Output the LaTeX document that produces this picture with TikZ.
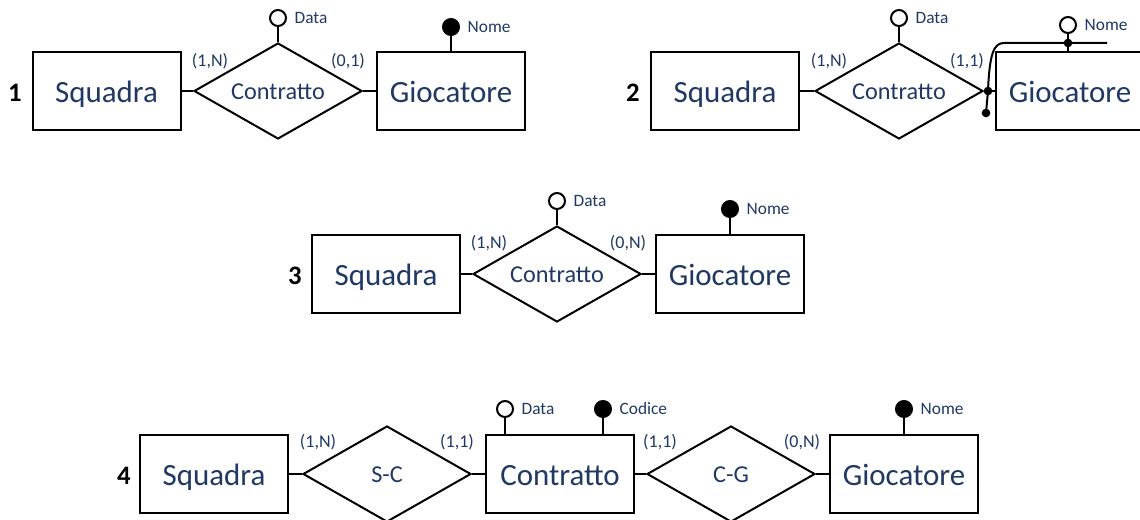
\documentclass[tikz,border=0pt]{standalone}
\usepackage{fontspec}
\setmainfont{Carlito}
\usetikzlibrary{shapes.geometric,positioning}
\definecolor{ernavy}{RGB}{31,56,100}

\tikzset{
  entity/.style={draw, rectangle, minimum width=111pt, minimum height=58.5pt, inner sep=0pt, text height=20pt, text depth=2.5pt, text=ernavy, font=\fontsize{23.2}{25}\selectfont},
  relation/.style={draw, diamond, aspect=1.75, minimum width=126pt, minimum height=72pt, inner sep=0pt, text height=16pt, text depth=2.5pt, text=ernavy, font=\fontsize{18.2}{20}\selectfont},
  attr/.style={circle, draw, fill=white, minimum size=12pt, inner sep=0pt},
  keyattr/.style={attr, fill=black},
  dot/.style={circle, fill=black, minimum size=6.5pt, inner sep=0pt},
  alab/.style={inner sep=0pt, text=ernavy, font=\fontsize{13}{14}\selectfont},
  card/.style={inner sep=0pt, text=ernavy, font=\fontsize{13.5}{15}\selectfont},
  num/.style={inner sep=0pt, font=\bfseries\fontsize{20}{22}\selectfont}
}

\begin{document}
\begin{tikzpicture}[line cap=butt,line join=miter,line width=1.5pt,x=0.75pt,y=-0.75pt]
  \clip (0,0) rectangle (1140,520);

  % 1
  \node[num] (num1) at (15,93) {1};
  \node[entity] (sq1) at (106.5,91) {Squadra};
  \node[relation] (rel1) at (278,91) {Contratto};
  \node[entity] (gio1) at (451,91) {Giocatore};
  \draw (sq1.east) -- (rel1.west);
  \draw (rel1.east) -- (gio1.west);
  \node[attr] (dat1) at (278,18) {};
  \draw (dat1) -- (rel1.north);
  \node[alab, right=5pt of dat1] {Data};
  \node[keyattr] (nom1) at (451,27) {};
  \draw (nom1) -- (gio1.north);
  \node[alab, right=5pt of nom1] {Nome};
  \node[card] at (210,61) {(1,N)};
  \node[card] at (348,61) {(0,1)};

  % 2
  \node[num] (num2) at (633,93) {2};
  \node[entity] (sq2) at (725,91) {Squadra};
  \node[relation] (rel2) at (899,91) {Contratto};
  \node[entity] (gio2) at (1070,91) {Giocatore};
  \draw (sq2.east) -- (rel2.west);
  \draw (rel2.east) -- (gio2.west);
  \node[attr] (dat2) at (899,18) {};
  \draw (dat2) -- (rel2.north);
  \node[alab, right=5pt of dat2] {Data};
  \node[attr] (nom2) at (1068,25) {};
  \draw (nom2) -- (nom2 |- gio2.north);
  \node[alab, right=5pt of nom2] {Nome};
  \node[card] at (829,61) {(1,N)};
  \node[card] at (967,61) {(1,1)};
  % identificatore esterno
  \node[dot] (jn2) at (988,91) {};
  \node[dot] (bt2) at (986,113) {};
  \node[dot] (kn2) at (1068,43) {};
  \coordinate (cr2) at (1004,43);
  \coordinate (en2) at (1107,43);
  \draw (bt2.center) -- (jn2.center) .. controls +(1.5,-38) and +(-10,0) .. (cr2) -- (en2);

  % 3
  \node[num] (num3) at (295,276) {3};
  \node[entity] (sq3) at (386,274) {Squadra};
  \node[relation] (rel3) at (557,274) {Contratto};
  \node[entity] (gio3) at (730,274) {Giocatore};
  \draw (sq3.east) -- (rel3.west);
  \draw (rel3.east) -- (gio3.west);
  \node[attr] (dat3) at (557,201) {};
  \draw (dat3) -- (rel3.north);
  \node[alab, right=5pt of dat3] {Data};
  \node[keyattr] (nom3) at (730,209) {};
  \draw (nom3) -- (gio3.north);
  \node[alab, right=5pt of nom3] {Nome};
  \node[card] at (489,243) {(1,N)};
  \node[card] at (628,243) {(0,N)};

  % 4
  \node[num] (num4) at (124,476) {4};
  \node[entity] (sq4) at (214,474) {Squadra};
  \node[relation] (sc4) at (387,474) {S-C};
  \node[entity] (con4) at (560,474) {Contratto};
  \node[relation] (cg4) at (731,474) {C-G};
  \node[entity] (gio4) at (904,474) {Giocatore};
  \draw (sq4.east) -- (sc4.west);
  \draw (sc4.east) -- (con4.west);
  \draw (con4.east) -- (cg4.west);
  \draw (cg4.east) -- (gio4.west);
  \node[attr] (dat4) at (505,409) {};
  \draw (dat4) -- (dat4 |- con4.north);
  \node[alab, right=5pt of dat4] {Data};
  \node[keyattr] (cod4) at (603,409) {};
  \draw (cod4) -- (cod4 |- con4.north);
  \node[alab, right=5pt of cod4] {Codice};
  \node[keyattr] (nom4) at (904,409) {};
  \draw (nom4) -- (gio4.north);
  \node[alab, right=5pt of nom4] {Nome};
  \node[card] at (318,442) {(1,N)};
  \node[card] at (457,442) {(1,1)};
  \node[card] at (660,442) {(1,1)};
  \node[card] at (802,442) {(0,N)};
\end{tikzpicture}
\end{document}
